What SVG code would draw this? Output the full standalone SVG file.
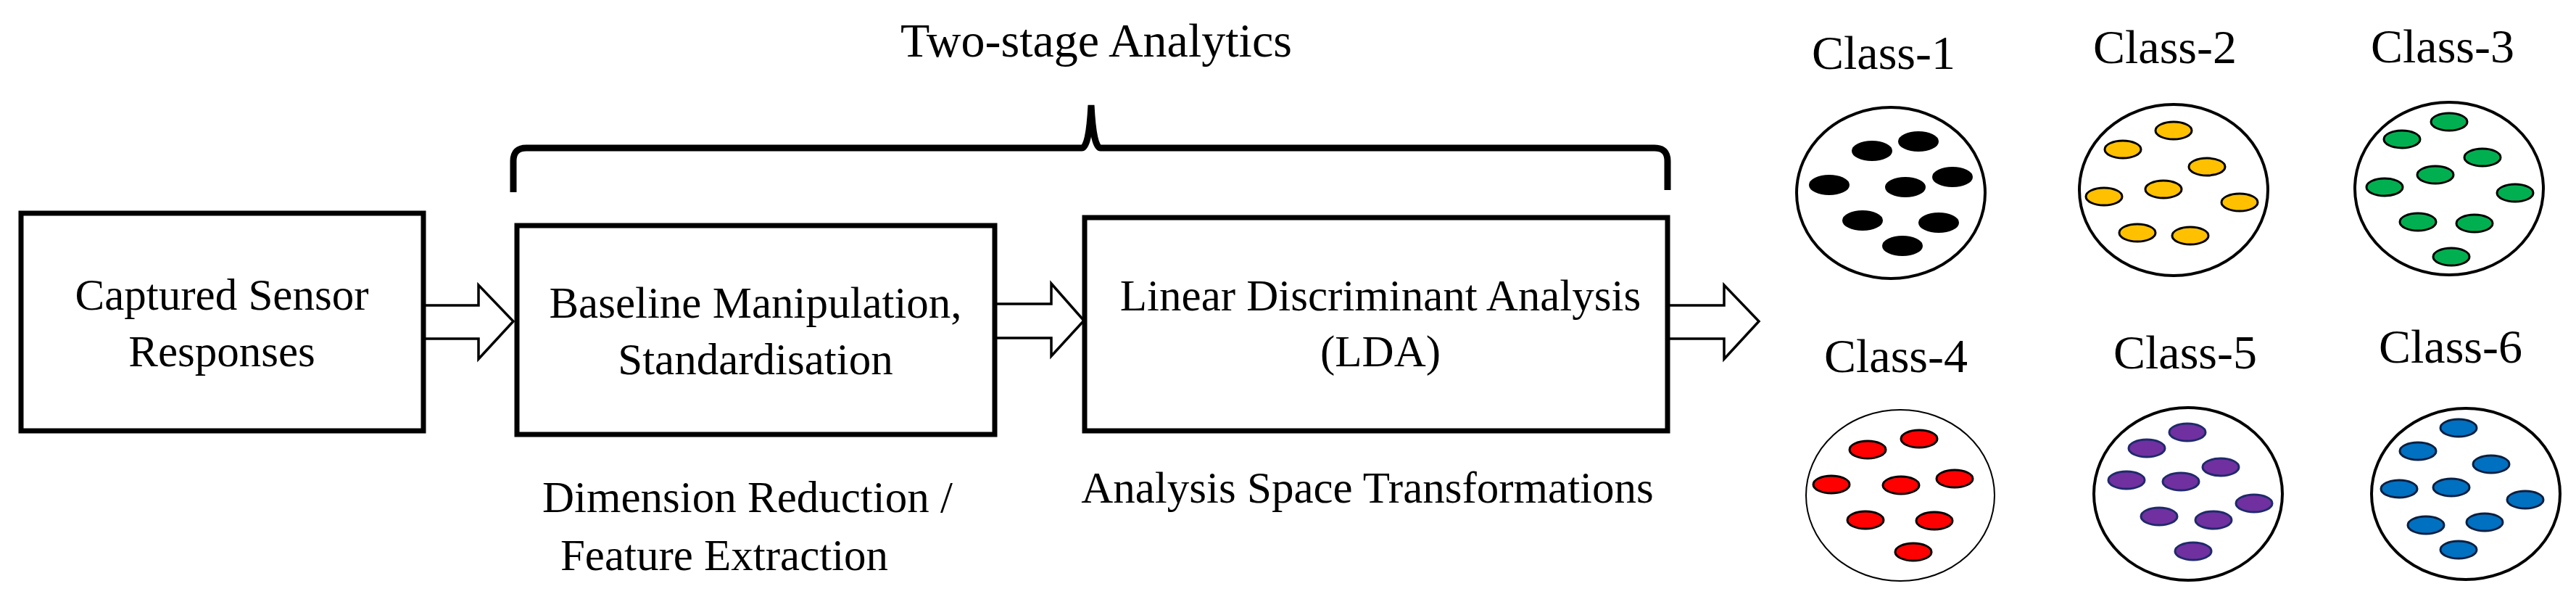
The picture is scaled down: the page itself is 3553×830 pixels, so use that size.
<svg xmlns="http://www.w3.org/2000/svg" width="3553" height="830" viewBox="0 0 3553 830">
<style>
text{font-family:"Liberation Serif","Times New Roman",serif;fill:#000;text-anchor:middle}
.t{font-size:61px}
.c{font-size:66px}
.box{fill:#fff;stroke:#000;stroke-width:7}
.arr{fill:#fff;stroke:#000;stroke-width:3.5;stroke-linejoin:miter}
.cl{fill:#fff;stroke:#000;stroke-width:4}
.d1{fill:#000;stroke:#000;stroke-width:2}
.d2{fill:#FFC000;stroke:#000;stroke-width:3}
.d3{fill:#00B050;stroke:#000;stroke-width:3}
.d4{fill:#FF0000;stroke:#000;stroke-width:3}
.d5{fill:#7030A0;stroke:#1F2A6B;stroke-width:3}
.d6{fill:#0070C0;stroke:#0B1F40;stroke-width:3}
</style>
<rect width="3553" height="830" fill="#fff"/>
<g id="connectors">
<polygon class="arr" points="584,421 660,421 660,393 708,443 660,495 660,467 584,467"/>
<polygon class="arr" points="1372,419 1450,419 1450,391 1495,442 1450,491 1450,466 1372,466"/>
<polygon class="arr" points="2300,421 2378,421 2378,393 2426,443 2378,495 2378,467 2300,467"/>
<path d="M708,265 L708,222 Q708,204 726,204 L1492,204 Q1502,204 1505,145 Q1508,204 1518,204 L2282,204 Q2300,204 2300,222 L2300,262" fill="none" stroke="#000" stroke-width="9"/>
</g>
<text class="t" x="1512" y="78" style="font-size:66px">Two-stage Analytics</text>
<g id="captured">
<rect class="box" x="29" y="294" width="555" height="300"/>
<text class="t" x="306" y="427">Captured Sensor</text>
<text class="t" x="306" y="505">Responses</text>
</g>
<g id="baseline">
<rect class="box" x="713" y="311" width="659" height="288"/>
<text class="t" x="1042" y="438">Baseline Manipulation,</text>
<text class="t" x="1042" y="516">Standardisation</text>
</g>
<g id="dimension">
<text class="t" x="1031" y="706">Dimension Reduction /</text>
<text class="t" x="999" y="786">Feature Extraction</text>
</g>
<g id="lda">
<rect class="box" x="1496" y="300" width="804" height="294"/>
<text class="t" x="1904" y="428">Linear Discriminant Analysis</text>
<text class="t" x="1904" y="505">(LDA)</text>
</g>
<text class="t" x="1886" y="693">Analysis Space Transformations</text>
<g id="class1">
<text class="c" x="2598" y="95">Class-1</text>
<ellipse class="cl" cx="2608" cy="266" rx="130" ry="118"/>
<g class="d1"><ellipse cx="2582" cy="208" rx="27" ry="13"/><ellipse cx="2646" cy="195" rx="27" ry="13"/><ellipse cx="2523" cy="255" rx="27" ry="13"/><ellipse cx="2628" cy="258" rx="27" ry="13"/><ellipse cx="2693" cy="244" rx="27" ry="13"/><ellipse cx="2569" cy="304" rx="27" ry="13"/><ellipse cx="2674" cy="307" rx="27" ry="13"/><ellipse cx="2624" cy="339" rx="27" ry="13"/></g>
</g>
<g id="class2">
<text class="c" x="2986" y="87">Class-2</text>
<ellipse class="cl" cx="2998" cy="262" rx="130" ry="118"/>
<g class="d2"><ellipse cx="2998" cy="180" rx="25" ry="12"/><ellipse cx="2928" cy="206" rx="25" ry="12"/><ellipse cx="3044" cy="230" rx="25" ry="12"/><ellipse cx="2902" cy="271" rx="25" ry="12"/><ellipse cx="2984" cy="261" rx="25" ry="12"/><ellipse cx="3089" cy="279" rx="25" ry="12"/><ellipse cx="2948" cy="321" rx="25" ry="12"/><ellipse cx="3021" cy="325" rx="25" ry="12"/></g>
</g>
<g id="class3">
<text class="c" x="3369" y="86">Class-3</text>
<ellipse class="cl" cx="3378" cy="260" rx="130" ry="119"/>
<g class="d3"><ellipse cx="3378" cy="168" rx="25" ry="12"/><ellipse cx="3313" cy="192" rx="25" ry="12"/><ellipse cx="3424" cy="217" rx="25" ry="12"/><ellipse cx="3359" cy="241" rx="25" ry="12"/><ellipse cx="3289" cy="258" rx="25" ry="12"/><ellipse cx="3469" cy="266" rx="25" ry="12"/><ellipse cx="3335" cy="306" rx="25" ry="12"/><ellipse cx="3413" cy="308" rx="25" ry="12"/><ellipse cx="3381" cy="354" rx="25" ry="12"/></g>
</g>
<g id="class4">
<text class="c" x="2615" y="513">Class-4</text>
<ellipse class="cl" cx="2621" cy="683" rx="130" ry="118" style="stroke-width:2"/>
<g class="d4"><ellipse cx="2647" cy="605" rx="25" ry="12"/><ellipse cx="2576" cy="620" rx="25" ry="12"/><ellipse cx="2526" cy="668" rx="25" ry="12"/><ellipse cx="2622" cy="669" rx="25" ry="12"/><ellipse cx="2696" cy="660" rx="25" ry="12"/><ellipse cx="2573" cy="717" rx="25" ry="12"/><ellipse cx="2668" cy="718" rx="25" ry="12"/><ellipse cx="2639" cy="761" rx="25" ry="12"/></g>
</g>
<g id="class5">
<text class="c" x="3014" y="508">Class-5</text>
<ellipse class="cl" cx="3018" cy="681" rx="130" ry="119"/>
<g class="d5"><ellipse cx="3017" cy="596" rx="25" ry="12"/><ellipse cx="2961" cy="618" rx="25" ry="12"/><ellipse cx="3063" cy="644" rx="25" ry="12"/><ellipse cx="2933" cy="662" rx="25" ry="12"/><ellipse cx="3008" cy="664" rx="25" ry="12"/><ellipse cx="3109" cy="694" rx="25" ry="12"/><ellipse cx="2978" cy="712" rx="25" ry="12"/><ellipse cx="3053" cy="717" rx="25" ry="12"/><ellipse cx="3025" cy="760" rx="25" ry="12"/></g>
</g>
<g id="class6">
<text class="c" x="3380" y="500">Class-6</text>
<ellipse class="cl" cx="3401" cy="681" rx="130" ry="118"/>
<g class="d6"><ellipse cx="3391" cy="590" rx="25" ry="12"/><ellipse cx="3335" cy="622" rx="25" ry="12"/><ellipse cx="3436" cy="640" rx="25" ry="12"/><ellipse cx="3309" cy="674" rx="25" ry="12"/><ellipse cx="3381" cy="672" rx="25" ry="12"/><ellipse cx="3483" cy="689" rx="25" ry="12"/><ellipse cx="3346" cy="724" rx="25" ry="12"/><ellipse cx="3427" cy="720" rx="25" ry="12"/><ellipse cx="3391" cy="758" rx="25" ry="12"/></g>
</g>
</svg>
